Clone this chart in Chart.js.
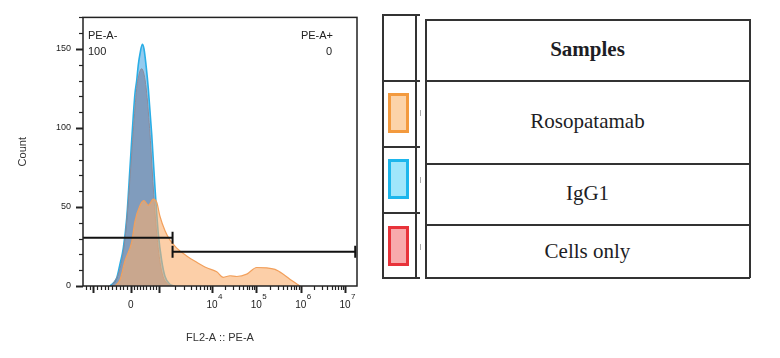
<!DOCTYPE html>
<html>
<head>
<meta charset="utf-8">
<script src="https://cdn.jsdelivr.net/npm/chart.js@4"></script>
<style>
  html, body { margin: 0; padding: 0; background: #fff; }
  #wrap { position: relative; width: 780px; height: 358px; background: #fff; overflow: hidden; }
  #plot { position: absolute; left: 0; top: 0; width: 370px; height: 358px; }
  .ln { position: absolute; background: #333; }
  .cell { position: absolute; left: 425px; width: 325px; display: flex; align-items: center; justify-content: center;
          font-family: "Liberation Serif", "Times New Roman", serif; font-size: 21px; color: #1d1d24; }
  .swatch { position: absolute; left: 388px; width: 15px; border: 3px solid; }
  .mark { position: absolute; left: 420px; width: 1px; height: 6px; background: #aaa; }
</style>
</head>
<body>
<div id="wrap">
  <div id="plot"><canvas id="chart" width="370" height="358"></canvas></div>
  <div id="legend"></div>
</div>
<script>
// axis ticks (display position in decade units, label, exponent)
const xTickValues = [1.32, 2.17, 2.80, 4, 5, 6, 7];
const xTickLabels = ["", "0", "", "10", "10", "10", "10"];
const xTickExps = ["", "", "", "4", "5", "6", "7"];

// Rosopatamab
const rosoX = [1.81, 1.925, 2.037, 2.189, 2.263, 2.376, 2.466, 2.563, 2.676, 2.753, 2.827, 2.94, 3.053, 3.204,
               3.429, 3.655, 3.88, 4.106, 4.255, 4.406, 4.557, 4.783, 5.008, 5.234, 5.421, 5.608, 5.798, 5.985];
const rosoCount = [0, 4, 16, 28, 41, 51, 54, 51, 55, 53, 44, 35, 29, 24,
                   19, 15, 11.5, 9, 5.5, 6.5, 6, 7.5, 11.7, 11.5, 10.5, 7.5, 3.5, 0];

// IgG1
const iggX = [1.699, 1.85, 1.925, 1.999, 2.076, 2.15, 2.225, 2.263, 2.301, 2.337, 2.376, 2.428, 2.466, 2.511,
              2.563, 2.64, 2.714, 2.789, 2.865, 2.94, 3.053, 3.165];
const iggCount = [0, 5, 14, 24, 43, 75, 108, 122, 130, 140, 147, 153, 150, 140,
                  125, 96, 62, 33, 16, 6, 1, 0];

// Cells only
const cellsX = [1.737, 1.925, 2.037, 2.15, 2.225, 2.301, 2.353, 2.414, 2.466, 2.527, 2.601, 2.676, 2.753,
                2.827, 2.895, 3.014, 3.098];
const cellsCount = [0, 11, 30, 68, 98, 125, 134, 137.5, 134, 122, 96, 62, 33, 15, 6, 1, 0];

// gates
const gateNames = ["PE-A-", "PE-A+"];
const gatePercents = ["100", "0"];
const gateNegX = [1.09, 3.11];
const gateNegY = 30.5;
const gatePosX = [3.11, 7.23];
const gatePosY = 21.7;

// legend table
const sampleNames = ["Rosopatamab", "IgG1", "Cells only"];
const swatchBorders = ["#f39a3e", "#1cb6ec", "#e8333a"];
const swatchFills = ["#fcd3a8", "#a0e6fb", "#f8aaac"];

const toPoints = (xs, ys) => xs.map((x, i) => ({ x, y: ys[i] }));
const FONT = "'Liberation Sans', Arial, Helvetica, sans-serif";

// minor tick positions for the biexponential axis
const minorX = [];
const lin = (a, b, n) => { for (let k = 1; k < n; k++) minorX.push(a + (b - a) * k / n); };
lin(1.09, 1.32, 3);
lin(1.32, 2.17, 10);
lin(2.17, 2.80, 9);
[[2.80, 4], [4, 5], [5, 6], [6, 7]].forEach(([a, b]) => {
  for (let k = 2; k <= 9; k++) minorX.push(a + (b - a) * Math.log10(k));
});

const framePlugin = {
  id: "frame",
  afterDraw(chart) {
    const { ctx, chartArea: a, scales } = chart;
    ctx.save();
    ctx.strokeStyle = "#222";
    ctx.lineWidth = 1.5;
    ctx.strokeRect(a.left, a.top, a.right - a.left, a.bottom - a.top);
    // y ticks
    for (let v = 0; v <= 170; v += 10) {
      const y = Math.round(scales.y.getPixelForValue(v)) + 0.5;
      const major = v % 50 === 0;
      ctx.lineWidth = major ? 2 : 1.2;
      ctx.beginPath();
      ctx.moveTo(a.left - (major ? 7 : 4), y);
      ctx.lineTo(a.left, y);
      ctx.stroke();
    }
    // x ticks
    const drawX = (v, len, w) => {
      const x = Math.round(scales.x.getPixelForValue(v)) + 0.5;
      ctx.lineWidth = w;
      ctx.beginPath();
      ctx.moveTo(x, a.bottom);
      ctx.lineTo(x, a.bottom + len);
      ctx.stroke();
    };
    minorX.forEach(v => drawX(v, 4, 1.2));
    xTickValues.forEach(v => drawX(v, 7, 2));
    // decade exponents next to the "10" labels
    ctx.fillStyle = "#222";
    ctx.font = "8px " + FONT;
    ctx.textAlign = "left";
    ctx.textBaseline = "middle";
    xTickValues.forEach((v, i) => {
      if (!xTickExps[i]) return;
      ctx.fillText(xTickExps[i], scales.x.getPixelForValue(v) + 6, a.bottom + 11);
    });
    // gate labels
    ctx.font = "11px " + FONT;
    ctx.fillText(gateNames[0], a.left + 5, a.top + 19);
    ctx.fillText(gatePercents[0], a.left + 5, a.top + 35);
    ctx.textAlign = "right";
    ctx.fillText(gateNames[1], a.right - 24, a.top + 19);
    ctx.fillText(gatePercents[1], a.right - 25, a.top + 35);
    ctx.restore();
  }
};

const histStyle = (border, fill, width) => ({
  borderColor: border,
  backgroundColor: fill,
  borderWidth: width,
  fill: "origin",
  pointRadius: 0,
  cubicInterpolationMode: "monotone",
});

const gateStyle = (radii) => ({
  borderColor: "#111",
  borderWidth: 2,
  fill: false,
  pointStyle: "line",
  rotation: 90,
  pointRadius: radii,
  pointBorderWidth: 2,
  pointBorderColor: "#111",
  order: 0,
});

new Chart(document.getElementById("chart"), {
  type: "line",
  data: {
    datasets: [
      { label: "PE-A-", data: toPoints(gateNegX, [gateNegY, gateNegY]), ...gateStyle([0, 6]) },
      { label: "PE-A+", data: toPoints(gatePosX, [gatePosY, gatePosY]), ...gateStyle([6, 6]) },
      { label: sampleNames[0], data: toPoints(rosoX, rosoCount), ...histStyle("#f2a05c", "rgba(250,175,110,0.6)", 1.2), order: 1 },
      { label: sampleNames[2], data: toPoints(cellsX, cellsCount), ...histStyle("#8c8c9c", "rgba(110,110,140,0.5)", 1), order: 2 },
      { label: sampleNames[1], data: toPoints(iggX, iggCount), ...histStyle("#2aaee6", "rgba(60,160,225,0.55)", 1.6), order: 3 },
    ],
  },
  options: {
    responsive: false,
    animation: false,
    events: [],
    layout: { padding: { top: 14, right: 13, left: 0, bottom: 0 } },
    plugins: { legend: { display: false }, tooltip: { enabled: false } },
    scales: {
      x: {
        type: "linear",
        min: 1.09,
        max: 7.27,
        afterFit(s) { s.height = 72; },
        afterBuildTicks(s) { s.ticks = xTickValues.map(v => ({ value: v })); },
        grid: { display: false, drawTicks: false },
        border: { display: false },
        ticks: {
          autoSkip: false,
          maxRotation: 0,
          padding: 13,
          color: "#222",
          font: { family: FONT, size: 10 },
          callback: (v, i) => xTickLabels[i],
        },
        title: { display: true, text: "FL2-A :: PE-A", color: "#333", font: { family: FONT, size: 11 }, padding: { bottom: 13 } },
      },
      y: {
        min: 0,
        max: 170,
        afterFit(s) { s.width = 83; },
        grid: { display: false, drawTicks: false },
        border: { display: false },
        ticks: {
          stepSize: 10,
          autoSkip: false,
          padding: 12,
          color: "#222",
          font: { family: FONT, size: 9 },
          callback: v => (v % 50 === 0 ? v : ""),
        },
        title: { display: true, text: "Count", color: "#333", font: { family: FONT, size: 11 }, padding: { top: 16 } },
      },
    },
  },
  plugins: [framePlugin],
});

// legend table beside the plot
const legend = document.getElementById("legend");
const add = (cls, css, text) => {
  const d = document.createElement("div");
  d.className = cls;
  Object.assign(d.style, css);
  if (text) d.textContent = text;
  legend.appendChild(d);
  return d;
};
// left swatch column
add("ln", { left: "382px", top: "14px", width: "1.5px", height: "264px" });
add("ln", { left: "415px", top: "14px", width: "2px", height: "265px" });
add("ln", { left: "382px", top: "14px", width: "38px", height: "1.5px" });
add("ln", { left: "382px", top: "277px", width: "38px", height: "1.5px" });
[80, 146, 212].forEach(y => add("ln", { left: "382px", top: y + "px", width: "38px", height: "1.5px" }));
[113, 180, 247].forEach(y => add("mark", { top: (y - 3) + "px" }));
const swatchTops = [93, 159, 226];
sampleNames.forEach((n, i) => add("swatch", {
  top: swatchTops[i] + "px", height: "34px", borderColor: swatchBorders[i], background: swatchFills[i],
}));
// right table
add("ln", { left: "425px", top: "19px", width: "1.5px", height: "259px" });
add("ln", { left: "749px", top: "19px", width: "1.5px", height: "259px" });
[19, 80, 163, 224, 277].forEach(y => add("ln", { left: "425px", top: y + "px", width: "325px", height: "1.5px" }));
const rows = [[19, 80], [80, 163], [163, 224], [224, 278]];
add("cell", { top: rows[0][0] + "px", height: (rows[0][1] - rows[0][0]) + "px", fontWeight: "bold" }, "Samples");
sampleNames.forEach((n, i) => add("cell", { top: rows[i + 1][0] + "px", height: (rows[i + 1][1] - rows[i + 1][0]) + "px" }, n));
</script>
</body>
</html>
